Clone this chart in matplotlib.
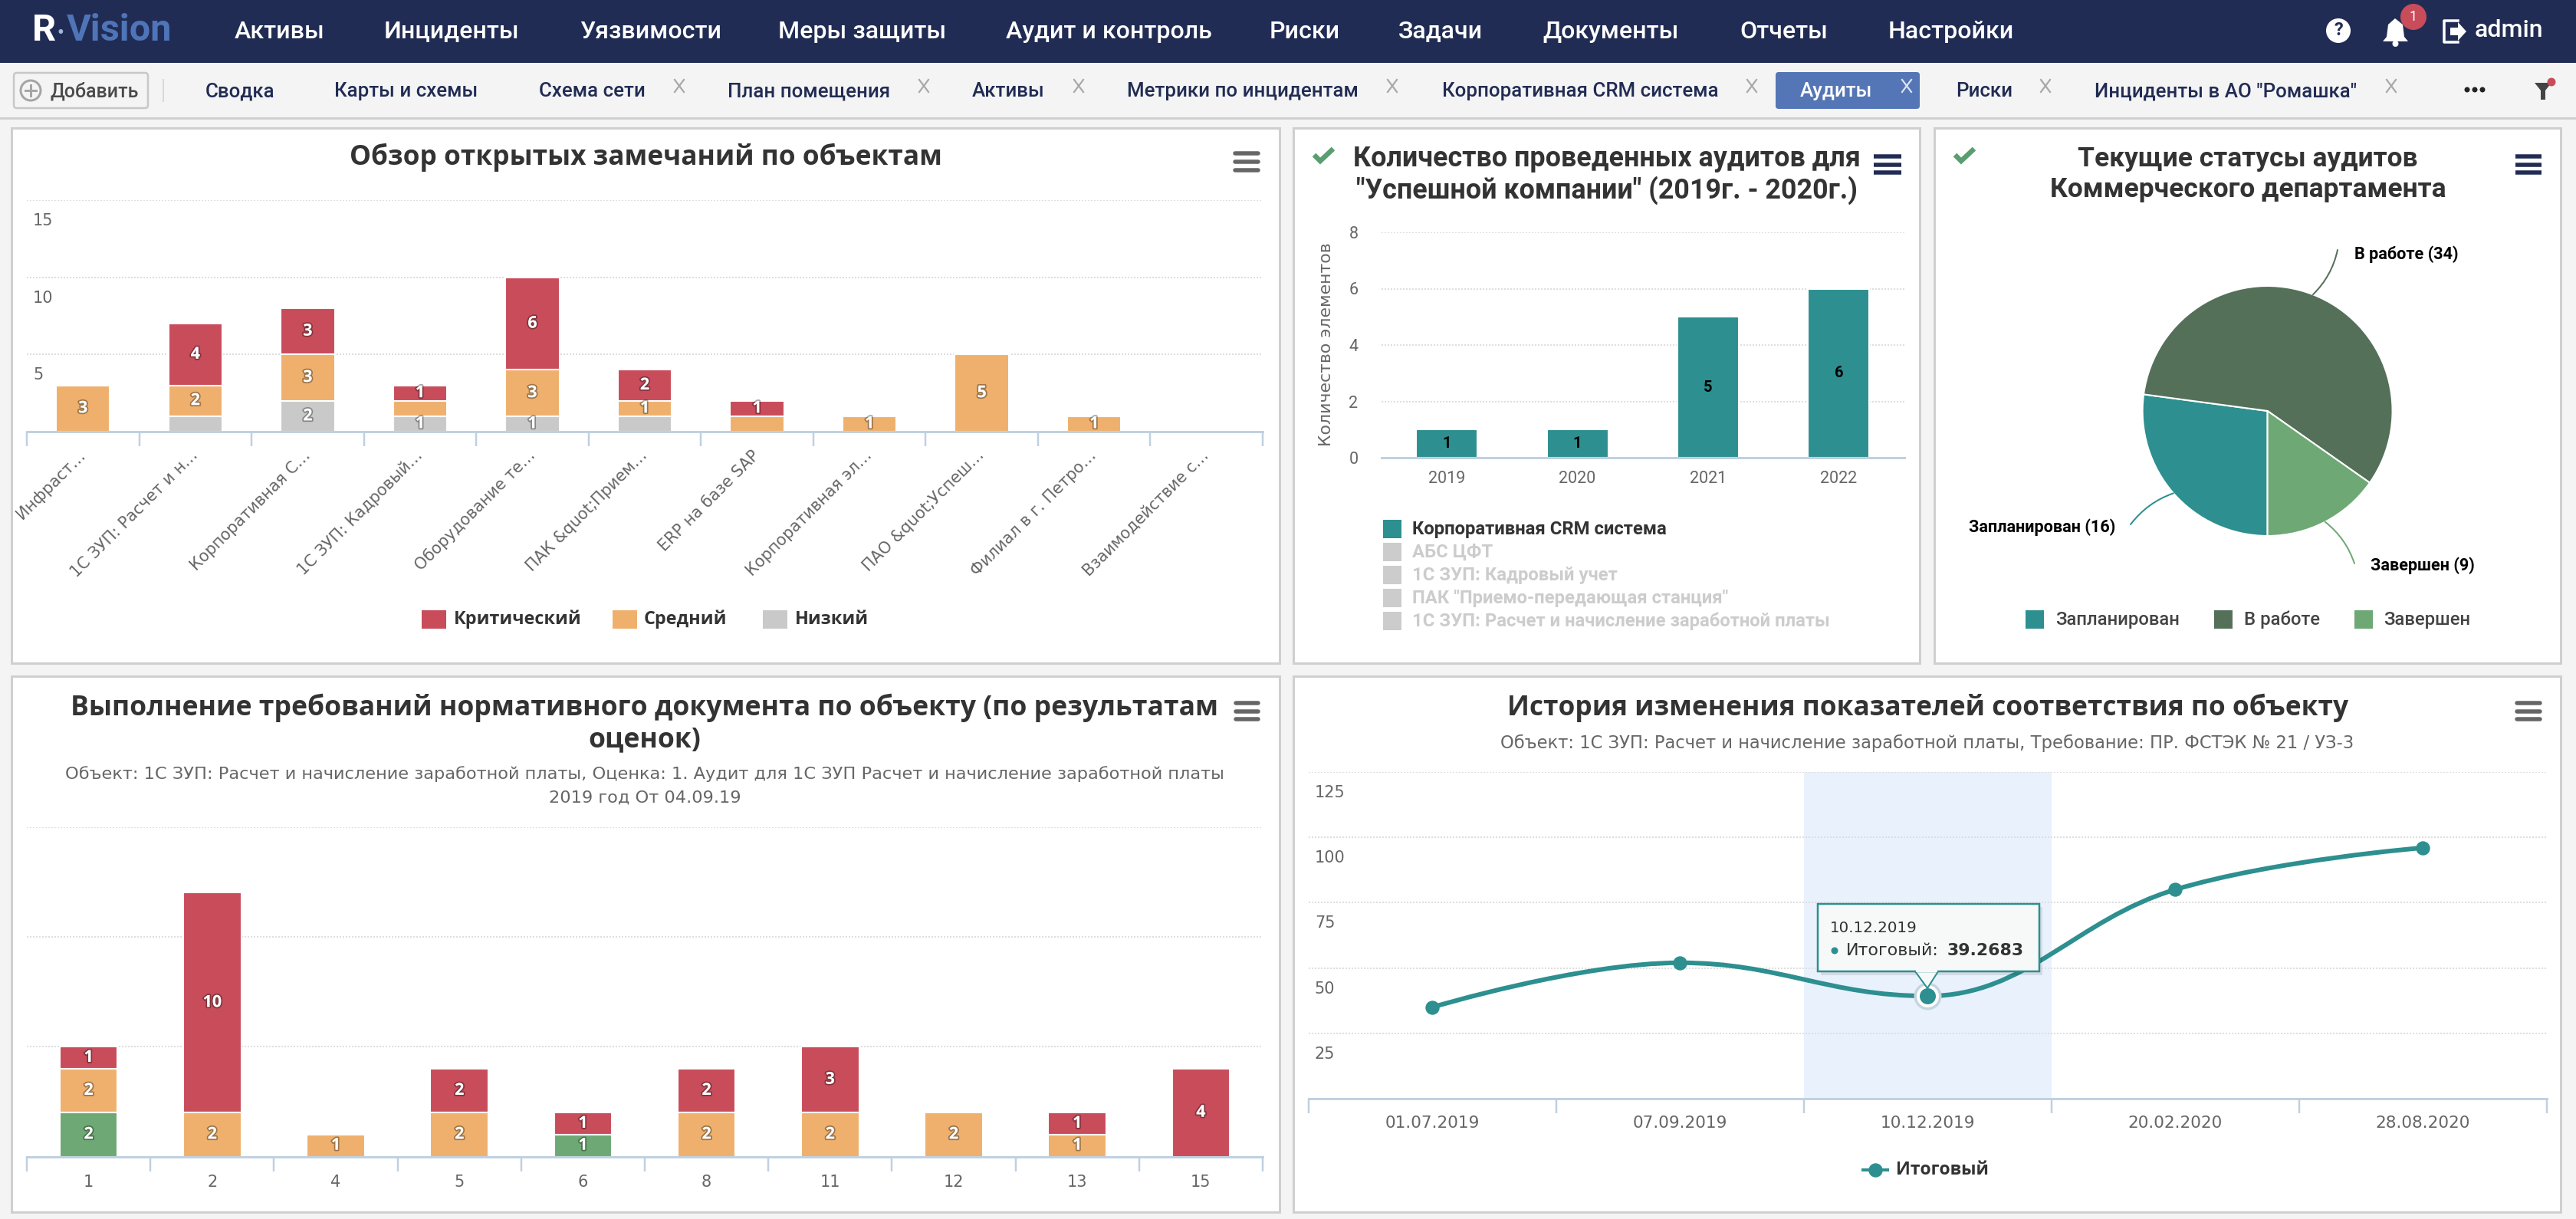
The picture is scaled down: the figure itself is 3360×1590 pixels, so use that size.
import matplotlib
matplotlib.use("Agg")
import matplotlib.pyplot as plt
import matplotlib.patheffects as pe
from matplotlib.patches import Rectangle, FancyBboxPatch, PathPatch, Polygon, Circle
from matplotlib.path import Path
from matplotlib.transforms import ScaledTranslation
from matplotlib.ticker import FixedLocator
import numpy as np

# ---------- data ----------
nav_items = ["Активы", "Инциденты", "Уязвимости", "Меры защиты", "Аудит и контроль", "Риски", "Задачи", "Документы", "Отчеты", "Настройки"]
tab_items = ["Сводка", "Карты и схемы", "Схема сети", "План помещения", "Активы", "Метрики по инцидентам", "Корпоративная CRM система", "Аудиты", "Риски", 'Инциденты в АО "Ромашка"']

obj_categories = ["Инфраст…", "1С ЗУП: Расчет и н…", "Корпоративная С…", "1С ЗУП: Кадровый…", "Оборудование те…", "ПАК &quot;Прием…",
                  "ERP на базе SAP", "Корпоративная эл…", "ПАО &quot;Успеш…", "Филиал в г. Петро…", "Взаимодействие с…"]
obj_low = [0, 1, 2, 1, 1, 1, 0, 0, 0, 0, 0]
obj_medium = [3, 2, 3, 1, 3, 1, 1, 1, 5, 1, 0]
obj_critical = [0, 4, 3, 1, 6, 2, 1, 0, 0, 0, 0]
obj_hidden_low = [1, 5]
obj_hidden_medium = [3, 6]
obj_yticks = [5, 10, 15]
obj_legend = ["Критический", "Средний", "Низкий"]

audit_years = ["2019", "2020", "2021", "2022"]
audit_counts = [1, 1, 5, 6]
audit_yticks = [0, 2, 4, 6, 8]
audit_legend = ["Корпоративная CRM система", "АБС ЦФТ", "1С ЗУП: Кадровый учет", 'ПАК "Приемо-передающая станция"', "1С ЗУП: Расчет и начисление заработной платы"]

status_names = ["Запланирован", "В работе", "Завершен"]
status_values = [16, 34, 9]

req_categories = ["1", "2", "4", "5", "6", "8", "11", "12", "13", "15"]
req_green = [2, 0, 0, 0, 1, 0, 0, 0, 0, 0]
req_orange = [2, 2, 1, 2, 0, 2, 2, 2, 1, 0]
req_red = [1, 10, 0, 2, 1, 2, 3, 0, 1, 4]
req_gridticks = [5, 10, 15]

hist_dates = ["01.07.2019", "07.09.2019", "10.12.2019", "20.02.2020", "28.08.2020"]
hist_values = [35, 52, 39.2683, 80, 96]
hist_yticks = [25, 50, 75, 100, 125]
hist_series = "Итоговый"

# ---------- styles ----------
W, H = 3360, 1590
NAVY = "#212C54"; RED = "#C84C5A"; ORANGE = "#EEB06C"; GRAY = "#C9C9C9"; TEAL = "#2D8F8F"
DKGREEN = "#547059"; LTGREEN = "#6EA874"; AXIS = "#C0D0E0"; GRID = "#DEDEDE"; TXT = "#333333"; LBL = "#666666"
RB = "Roboto"; OS = "Open Sans"; DV = "DejaVu Sans"
PX = 0.72

fig = plt.figure(figsize=(W / 100, H / 100), dpi=100, facecolor="#F4F4F4")


def layer(z):
    a = fig.add_axes([0, 0, 1, 1], zorder=z)
    a.set_xlim(0, W); a.set_ylim(H, 0); a.axis("off"); a.patch.set_alpha(0)
    return a


ui = layer(0)
top = layer(5)


def axes_px(x0, y0, x1, y1):
    a = fig.add_axes([x0 / W, 1 - y1 / H, (x1 - x0) / W, (y1 - y0) / H], zorder=2)
    a.patch.set_alpha(0)
    for s in ("top", "left", "right"):
        a.spines[s].set_visible(False)
    a.spines["bottom"].set_color(AXIS); a.spines["bottom"].set_linewidth(3 * PX)
    return a


def T(x, y, s, size, color=TXT, weight="normal", family=RB, ha="left", va="center", ax=ui, **kw):
    return ax.text(x, y, s, fontsize=size, color=color, fontweight=weight, family=family, ha=ha, va=va, **kw)


def burger(x0, x1, y0, y1, color):
    for y in np.linspace(y0, y1, 3):
        ui.plot([x0, x1], [y, y], color=color, lw=5.5 * PX, solid_capstyle="round" if color != NAVY else "butt")


def check(x, y):
    ui.plot([x, x + 8, x + 25], [y + 10, y + 18, y + 2], color="#5A9E6F", lw=6.5 * PX, solid_joinstyle="miter", solid_capstyle="butt")


def square(x, y, c, s=24, h=24):
    ui.add_patch(Rectangle((x, y - h / 2), s, h, fc=c, ec="none"))


def xmark(x, y=112):
    for d in (-1, 1):
        ui.plot([x - 6, x + 6], [y - 8 * d, y + 8 * d], color="#A8A8A8", lw=2.2 * PX)


# ---------- top chrome ----------
ui.add_patch(Rectangle((0, 0), W, 82, fc=NAVY, ec="none"))
ui.add_patch(Rectangle((0, 153), W, 3, fc="#CFCFCF", ec="none"))
T(42, 40, "R", 35, "white", "bold")
T(74, 44, "·", 26, "#9FB4DC", "bold")
T(87, 40, "Vision", 35, "#4F75B8", "bold")
nav_x = [306, 501, 756, 1015, 1312, 1656, 1824, 2012, 2269, 2463]
for x, s in zip(nav_x, nav_items):
    T(x, 41, s, 23.1, "white", "medium")
# right icons
ui.add_patch(Circle((3050, 40), 16, fc="white", ec="none"))
T(3050, 40, "?", 17, NAVY, "bold", ha="center")
ui.add_patch(Polygon([(3124, 24), (3134, 32), (3136, 48), (3141, 54), (3108, 54), (3113, 48), (3115, 32)], fc="white", ec="none"))
ui.add_patch(Circle((3124.5, 57), 4, fc="white", ec="none"))
ui.add_patch(Circle((3148, 22), 17, fc=RED, ec="none"))
T(3148, 22, "1", 13, "white", ha="center")
ui.plot([3206, 3188, 3188, 3206], [27, 27, 55, 55], color="white", lw=3.5 * PX)
ui.add_patch(Polygon([(3196, 36), (3206, 36), (3206, 29), (3217, 41), (3206, 53), (3206, 46), (3196, 46)], fc="white", ec="none"))
T(3228, 40, "admin", 23.1, "white", "medium")

# tab strip
ui.add_patch(FancyBboxPatch((18, 95), 175, 46, boxstyle="round,pad=0,rounding_size=4", fc="#F4F4F4", ec="#C8C8C8", lw=2.5 * PX))
ui.add_patch(Circle((40, 118), 13, fc="#F4F4F4", ec="#A5A5A5", lw=3 * PX))
ui.plot([33, 47], [118, 118], color="#A5A5A5", lw=3 * PX); ui.plot([40, 40], [111, 125], color="#A5A5A5", lw=3 * PX)
T(66, 119, "Добавить", 18, "#4A4A4A", "medium")
ui.plot([212.5, 212.5], [104, 132], color="#D8D8D8", lw=2 * PX)
ui.add_patch(FancyBboxPatch((2316, 94), 188, 48, boxstyle="round,pad=0,rounding_size=4", fc="#5476B6", ec="none"))
tab_x = [268, 436, 703, 949, 1268, 1470, 1881, 2348, 2551, 2732]
for i, (x, s) in enumerate(zip(tab_x, tab_items)):
    T(x, 119, s, 18.6, "white" if s == "Аудиты" else NAVY, "medium")
for x in (886, 1205, 1407, 1816, 2285, 2668, 3119):
    xmark(x)
for d in (-1, 1):
    ui.plot([2481, 2493], [112 - 8 * d, 112 + 8 * d], color="#DDE3F0", lw=2.2 * PX)
for x in (3218, 3228, 3238):
    ui.add_patch(Circle((x, 117), 3.5, fc="#222222", ec="none"))
ui.add_patch(Polygon([(3306, 108), (3328, 108), (3320, 118), (3320, 130), (3314, 130), (3314, 118)], fc="#444444", ec="none"))
ui.add_patch(Circle((3328, 107), 5.5, fc=RED, ec="none"))

# panels
for (x0, y0, x1, y1) in [(15, 167, 1669, 865), (1687, 167, 2504, 865), (2523, 167, 3340, 865), (15, 882, 1669, 1581), (1687, 882, 3340, 1581)]:
    ui.add_patch(Rectangle((x0, y0), x1 - x0, y1 - y0, fc="white", ec="#CFCFCF", lw=3 * PX))


def style_y_inside(ax, ticks, dx=8, dy=-17, size=15):
    ax.set_yticks(ticks)
    ax.tick_params(axis="y", length=0, pad=0, labelsize=size, labelcolor=LBL)
    off = ScaledTranslation(dx / 100, dy / 100, fig.dpi_scale_trans)
    for lab in ax.get_yticklabels():
        lab.set_ha("left"); lab.set_va("top"); lab.set_family(DV)
        lab.set_transform(lab.get_transform() + off)


def style_x_cat(ax, labels, size=15, pad=16):
    n = len(labels)
    ax.set_xlim(-0.5, n - 0.5)
    ax.set_xticks(range(n))
    ax.set_xticklabels(labels, family=DV, fontsize=size, color=LBL)
    ax.xaxis.set_minor_locator(FixedLocator(np.arange(-0.5, n, 1)))
    ax.tick_params(axis="x", which="major", length=0, pad=pad)
    ax.tick_params(axis="x", which="minor", length=19 * PX, width=2.5 * PX, color=AXIS)


def grid(ax):
    ax.grid(axis="y", color=GRID, lw=2 * PX, ls=(0, (1, 1)), zorder=0.5)
    ax.set_axisbelow(True)


OUT = [pe.withStroke(linewidth=2.6, foreground="#00000055")]


def stacks(ax, series, width, size=15.5, hidden=None):
    hidden = hidden or {}
    x = np.arange(len(series[0][0]))
    bottom = np.zeros(len(x))
    for vals, col in series:
        vals = np.array(vals)
        ax.bar(x, vals, width, bottom=bottom, color=col, edgecolor="white", linewidth=1.5, zorder=2)
        for i, v in enumerate(vals):
            if v and i not in hidden.get(col, []):
                ax.text(i, bottom[i] + v / 2, str(v), ha="center", va="center", color="white", fontsize=size,
                        family=OS, fontweight="bold", path_effects=OUT, zorder=3)
        bottom += vals


# ---------- chart 1 ----------
T(842, 205, "Обзор открытых замечаний по объектам", 25.4, TXT, "bold", OS, ha="center")
burger(1611, 1641, 200, 222, "#666666")
ax = axes_px(35, 261, 1647, 563)
ax.set_ylim(0, 15)
stacks(ax, [(obj_low, GRAY), (obj_medium, ORANGE), (obj_critical, RED)], 0.48,
       hidden={GRAY: obj_hidden_low, ORANGE: obj_hidden_medium})
style_x_cat(ax, obj_categories, pad=20)
for lab in ax.get_xticklabels():
    lab.set_rotation(45); lab.set_ha("right"); lab.set_va("center"); lab.set_rotation_mode("anchor")
grid(ax); style_y_inside(ax, obj_yticks)
for x, tx, c, s in zip((550, 799, 995), (592, 840, 1037), (RED, ORANGE, GRAY), obj_legend):
    square(x, 808, c, 32)
    T(tx, 808, s, 16.8, TXT, "bold", OS)

# ---------- chart 2 ----------
check(1714, 192)
T(2096, 207, "Количество проведенных аудитов для", 25.8, TXT, "bold", RB, ha="center")
T(2096, 248, '"Успешной компании" (2019г. - 2020г.)', 25.8, TXT, "bold", RB, ha="center")
burger(2444, 2480, 204, 225, NAVY)
ax = axes_px(1802, 303, 2483.6, 597)
ax.set_ylim(0, 8)
xs = np.arange(len(audit_counts))
ax.bar(xs, audit_counts, 0.47, color=TEAL, edgecolor="white", linewidth=1.5, zorder=2)
for i, v in zip(xs, audit_counts):
    ax.text(i, v / 2, str(v), ha="center", va="center", fontsize=14.5, fontweight="bold", family=RB, color="black", zorder=3)
ax.set_xlim(-0.5, 3.5)
ax.set_xticks(xs); ax.set_xticklabels(audit_years, family=RB, fontsize=15.5, color=LBL)
ax.tick_params(axis="x", length=0, pad=12)
ax.set_yticks(audit_yticks); ax.set_yticklabels([str(v) for v in audit_yticks], family=RB, fontsize=15.5, color=LBL)
ax.tick_params(axis="y", length=0, pad=22)
grid(ax)
T(1730, 449, "Количество элементов", 15.8, LBL, "normal", DV, ha="center", rotation=90)
for i, (y, s) in enumerate(zip((690, 720, 750, 780, 810), audit_legend)):
    square(1804, y, TEAL if i == 0 else "#CCCCCC")
    T(1842, y, s, 17.2, TXT if i == 0 else "#CCCCCC", "bold", RB)

# ---------- chart 3 ----------
check(2550, 192)
T(2932, 207, "Текущие статусы аудитов", 25.5, TXT, "bold", RB, ha="center")
T(2932, 248, "Коммерческого департамента", 25.5, TXT, "bold", RB, ha="center")
burger(3281, 3315, 204, 225, NAVY)
ax = axes_px(2957.6 - 163, 536 - 163, 2957.6 + 163, 536 + 163)
for s in ax.spines.values():
    s.set_visible(False)
pie_colors = [TEAL, DKGREEN, LTGREEN]
wedges, _ = ax.pie(status_values, colors=pie_colors, startangle=270, counterclock=False, radius=1,
                   wedgeprops=dict(edgecolor="white", linewidth=1.5))
ax.set_xlim(-1, 1); ax.set_ylim(-1, 1)
ends = [(2779, 684), (3049, 326), (3071, 735)]
text_pos = [(2759, 688, "right"), (3071, 332, "left"), (3092, 738, "left")]
rads = [-0.15, -0.15, 0.15]
for w, name, v, c, e, tp, r in zip(wedges, status_names, status_values, pie_colors, ends, text_pos, rads):
    th = np.deg2rad((w.theta1 + w.theta2) / 2)
    ax.annotate("", xy=(np.cos(th), np.sin(th)), xycoords="data", xytext=(e[0], H - e[1]), textcoords="figure pixels",
                arrowprops=dict(arrowstyle="-", color=c, lw=2 * PX, connectionstyle=f"arc3,rad={r}", shrinkA=0, shrinkB=0),
                annotation_clip=False)
    T(tp[0], tp[1], f"{name} ({v})", 15.6, "black", "bold", RB, ha=tp[2])
for x, tx, c, s in zip((2642, 2888, 3071), (2681, 2927, 3109), pie_colors, status_names):
    square(x, 808, c)
    T(tx, 808, s, 17.2, "#444444", "medium", RB)

# ---------- chart 4 ----------
T(841, 923, "Выполнение требований нормативного документа по объекту (по результатам", 25.6, TXT, "bold", OS, ha="center")
T(841, 965, "оценок)", 25.6, TXT, "bold", OS, ha="center")
T(841, 1010, "Объект: 1С ЗУП: Расчет и начисление заработной платы, Оценка: 1. Аудит для 1С ЗУП Расчет и начисление заработной платы", 16.2, LBL, "normal", DV, ha="center")
T(841, 1041, "2019 год От 04.09.19", 16.2, LBL, "normal", DV, ha="center")
burger(1612, 1641, 917, 938, "#666666")
ax = axes_px(35, 1078.5, 1647, 1508.5)
ax.set_ylim(0, 15)
stacks(ax, [(req_green, LTGREEN), (req_orange, ORANGE), (req_red, RED)], 0.47)
style_x_cat(ax, req_categories, pad=17)
ax.set_yticks(req_gridticks); ax.set_yticklabels([])
ax.tick_params(axis="y", length=0)
grid(ax)

# ---------- chart 5 ----------
T(2514, 923, "История изменения показателей соответствия по объекту", 25.4, TXT, "bold", OS, ha="center")
T(2514, 969, "Объект: 1С ЗУП: Расчет и начисление заработной платы, Требование: ПР. ФСТЭК № 21 / УЗ-3", 16.3, LBL, "normal", DV, ha="center")
burger(3283, 3313, 917, 938, "#666666")
ax = axes_px(1706.8, 1007, 3321.5, 1433)
ax.set_ylim(0, 125)
style_x_cat(ax, hist_dates, size=15.6, pad=16)
ax.axvspan(1.5, 2.5, color="#E9F1FC", zorder=0.2, lw=0)
grid(ax); style_y_inside(ax, hist_yticks)


def spline_path(x, y, smooth=1.5):
    d = smooth + 1
    n = len(x)
    lc, rc = [None] * n, [None] * n
    for i in range(n):
        if i == 0 or i == n - 1:
            lc[i] = rc[i] = (x[i], y[i])
            continue
        lx, ly = (smooth * x[i] + x[i - 1]) / d, (smooth * y[i] + y[i - 1]) / d
        rx, ry = (smooth * x[i] + x[i + 1]) / d, (smooth * y[i] + y[i + 1]) / d
        corr = (ry - ly) * (rx - x[i]) / (rx - lx) + y[i] - ry
        ly += corr; ry += corr
        if ly > y[i - 1] and ly > y[i]:
            ly = max(y[i - 1], y[i]); ry = 2 * y[i] - ly
        elif ly < y[i - 1] and ly < y[i]:
            ly = min(y[i - 1], y[i]); ry = 2 * y[i] - ly
        if ry > y[i + 1] and ry > y[i]:
            ry = max(y[i + 1], y[i]); ly = 2 * y[i] - ry
        elif ry < y[i + 1] and ry < y[i]:
            ry = min(y[i + 1], y[i]); ly = 2 * y[i] - ry
        lc[i] = (lx, ly); rc[i] = (rx, ry)
    verts = [(x[0], y[0])]; codes = [Path.MOVETO]
    for i in range(1, n):
        verts += [rc[i - 1], lc[i], (x[i], y[i])]
        codes += [Path.CURVE4] * 3
    return Path(verts, codes)


hx = np.arange(len(hist_values), dtype=float)
ax.add_patch(PathPatch(spline_path(hx, hist_values), fc="none", ec=TEAL, lw=6 * PX, zorder=3, capstyle="round"))
ax.plot(hx, hist_values, ls="none", marker="o", ms=17 * PX, color=TEAL, mec=TEAL, zorder=4)
ax.plot(hx[2], hist_values[2], marker="o", ms=36 * PX, color="#C5D5E0", mec="none", zorder=4)
ax.plot(hx[2], hist_values[2], marker="o", ms=25 * PX, color=TEAL, mec="white", mew=4 * PX, zorder=5)

# tooltip
top.add_patch(Rectangle((2375, 1183), 289, 89, fc="#00000018", ec="none"))
top.add_patch(Polygon([(2498, 1267), (2514, 1289), (2528, 1267)], fc="#F7F9F9", ec=TEAL, lw=2 * PX))
top.add_patch(Rectangle((2371, 1179), 289, 88, fc="#F7F9F9", ec=TEAL, lw=2.5 * PX))
top.add_patch(Rectangle((2499, 1262), 28, 6, fc="#F7F9F9", ec="none"))
T(2387, 1211, hist_dates[2], 14.3, TXT, "normal", DV, ax=top)
top.add_patch(Circle((2393, 1240), 4.5, fc=TEAL, ec="none"))
T(2408, 1240, f"{hist_series}:", 16, TXT, "normal", DV, ax=top)
T(2540, 1240, f"{hist_values[2]:.4f}", 15.8, TXT, "bold", DV, ax=top)

ui.plot([2430, 2462], [1526, 1526], color=TEAL, lw=4 * PX, zorder=4)
ui.plot([2446], [1526], marker="o", ms=17 * PX, color=TEAL, zorder=5)
T(2473, 1526, hist_series, 16.5, TXT, "bold", OS)

fig.savefig("out.png", dpi=100, facecolor=fig.get_facecolor())
